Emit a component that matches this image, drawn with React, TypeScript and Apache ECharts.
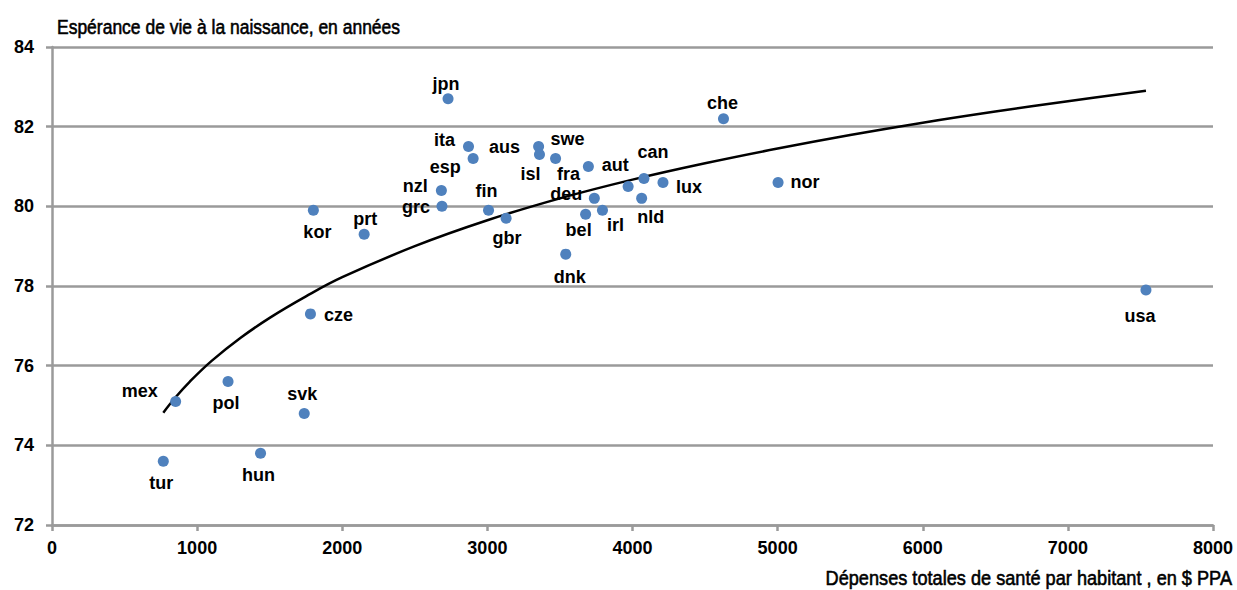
import React, { useEffect, useRef } from "react";
import * as echarts from "echarts";

const countries = ["tur","mex","pol","hun","svk","cze","kor","prt","nzl","grc","jpn","ita","esp","fin","gbr","aus","isl","swe","fra","dnk","bel","deu","irl","aut","nld","can","lux","che","nor","usa"];
const spending = [767,852,1213,1437,1738,1781,1801,2151,2683,2687,2729,2870,2902,3008,3129,3353,3359,3470,3696,3540,3677,3737,3793,3970,4063,4079,4210,4627,5003,7538];
const lifeExp = [73.6,75.1,75.6,73.8,74.8,77.3,79.9,79.3,80.4,80.0,82.7,81.5,81.2,79.9,79.7,81.5,81.3,81.2,81.0,78.8,79.8,80.2,79.9,80.5,80.2,80.7,80.6,82.2,80.6,77.9];

const trendX = [767,850,950,1100,1300,1500,1750,2000,2500,3000,3500,4000,4500,5000,5500,6000,6500,7000,7538];
const trendY = [74.82,75.2,75.6,76.12,76.7,77.2,77.74,78.22,79.0,79.65,80.2,80.67,81.08,81.45,81.79,82.1,82.38,82.64,82.9];

const xTicks = { min: 0, max: 8000, interval: 1000 };
const yTicks = { min: 72, max: 84, interval: 2 };

const yTitle = "Espérance de vie à la naissance, en années";
const xTitle = "Dépenses totales de santé par habitant , en $ PPA";

// label offsets (px) relative to the dot centre
const labelOffsets: Record<string, [number, number]> = {
  jpn: [-2, -15], che: [-1, -16], ita: [-24, -7], aus: [-34, 0], swe: [12, -20],
  esp: [-28, 8], isl: [-9, 19], fra: [-20, 7], aut: [-13, -21], can: [9, -26],
  lux: [26, 5], nzl: [-26, -4], grc: [-26, 1], fin: [-2, -19], deu: [-28, -4],
  nld: [9, 19], irl: [13, 15], bel: [-7, 16], gbr: [1, 20], dnk: [4, 23],
  nor: [27, 0], usa: [-6, 26], kor: [4, 22], prt: [1, -15], cze: [28, 1],
  mex: [-36, -11], pol: [-2, 21], svk: [-2, -19], tur: [-2, 22], hun: [-2, 22],
};

const FONT = "Liberation Sans, Arial, sans-serif";
const GRID_GRAY = "#9a9a9a";

export default function App() {
  const ref = useRef<HTMLDivElement>(null);
  useEffect(() => {
    if (!ref.current) return;
    const chart = echarts.init(ref.current, undefined, { renderer: "svg" });
    const points = countries.map((c, i) => ({
      name: c,
      value: [spending[i], lifeExp[i]],
      label: { offset: labelOffsets[c] || [0, -16] },
    }));
    const trend = trendX.map((x, i) => [x, trendY[i]]);
    chart.setOption({
      animation: false,
      backgroundColor: "#ffffff",
      grid: { left: 52, right: 24, top: 47, bottom: 65, containLabel: false },
      xAxis: {
        type: "value",
        min: xTicks.min, max: xTicks.max, interval: xTicks.interval,
        axisLine: { show: true, lineStyle: { color: GRID_GRAY, width: 2.5 } },
        axisTick: { show: true, length: 6, lineStyle: { color: GRID_GRAY, width: 2.5 } },
        axisLabel: { color: "#000", fontSize: 18, fontWeight: "bold", fontFamily: FONT, margin: 14, formatter: (v: number) => String(v) },
        splitLine: { show: false },
      },
      yAxis: {
        type: "value",
        min: yTicks.min, max: yTicks.max, interval: yTicks.interval,
        axisLine: { show: true, lineStyle: { color: GRID_GRAY, width: 2.5 } },
        axisTick: { show: true, length: 6, lineStyle: { color: GRID_GRAY, width: 2.5 } },
        axisLabel: { color: "#000", fontSize: 18, fontWeight: "bold", fontFamily: FONT, margin: 18, formatter: (v: number) => String(v) },
        splitLine: { show: true, lineStyle: { color: GRID_GRAY, width: 2.5 } },
      },
      graphic: [
        {
          type: "text", x: 57, y: 27, scaleX: 0.833,
          style: { text: yTitle, fontSize: 21, fontFamily: FONT, fill: "#000", stroke: "#000", lineWidth: 0.6, textAlign: "left", textVerticalAlign: "middle" },
        },
        {
          type: "text", x: 1232, y: 578, scaleX: 0.865,
          style: { text: xTitle, fontSize: 21, fontFamily: FONT, fill: "#000", stroke: "#000", lineWidth: 0.6, textAlign: "right", textVerticalAlign: "middle" },
        },
      ],
      series: [
        {
          type: "line",
          data: trend,
          smooth: 0.4,
          showSymbol: false,
          symbol: "none",
          lineStyle: { color: "#000", width: 2.5 },
          z: 3,
          silent: true,
        },
        {
          type: "scatter",
          data: points,
          symbolSize: 11,
          itemStyle: { color: "#4f81bd", opacity: 1 },
          z: 4,
          label: {
            show: true,
            position: "inside",
            formatter: (p: any) => p.name,
            color: "#000",
            fontSize: 18,
            fontWeight: "bold",
            fontFamily: FONT,
          },
        },
      ],
    });
    return () => chart.dispose();
  }, []);
  return <div ref={ref} style={{ position: "fixed", left: 0, top: 0, width: 1237, height: 590 }} />;
}
